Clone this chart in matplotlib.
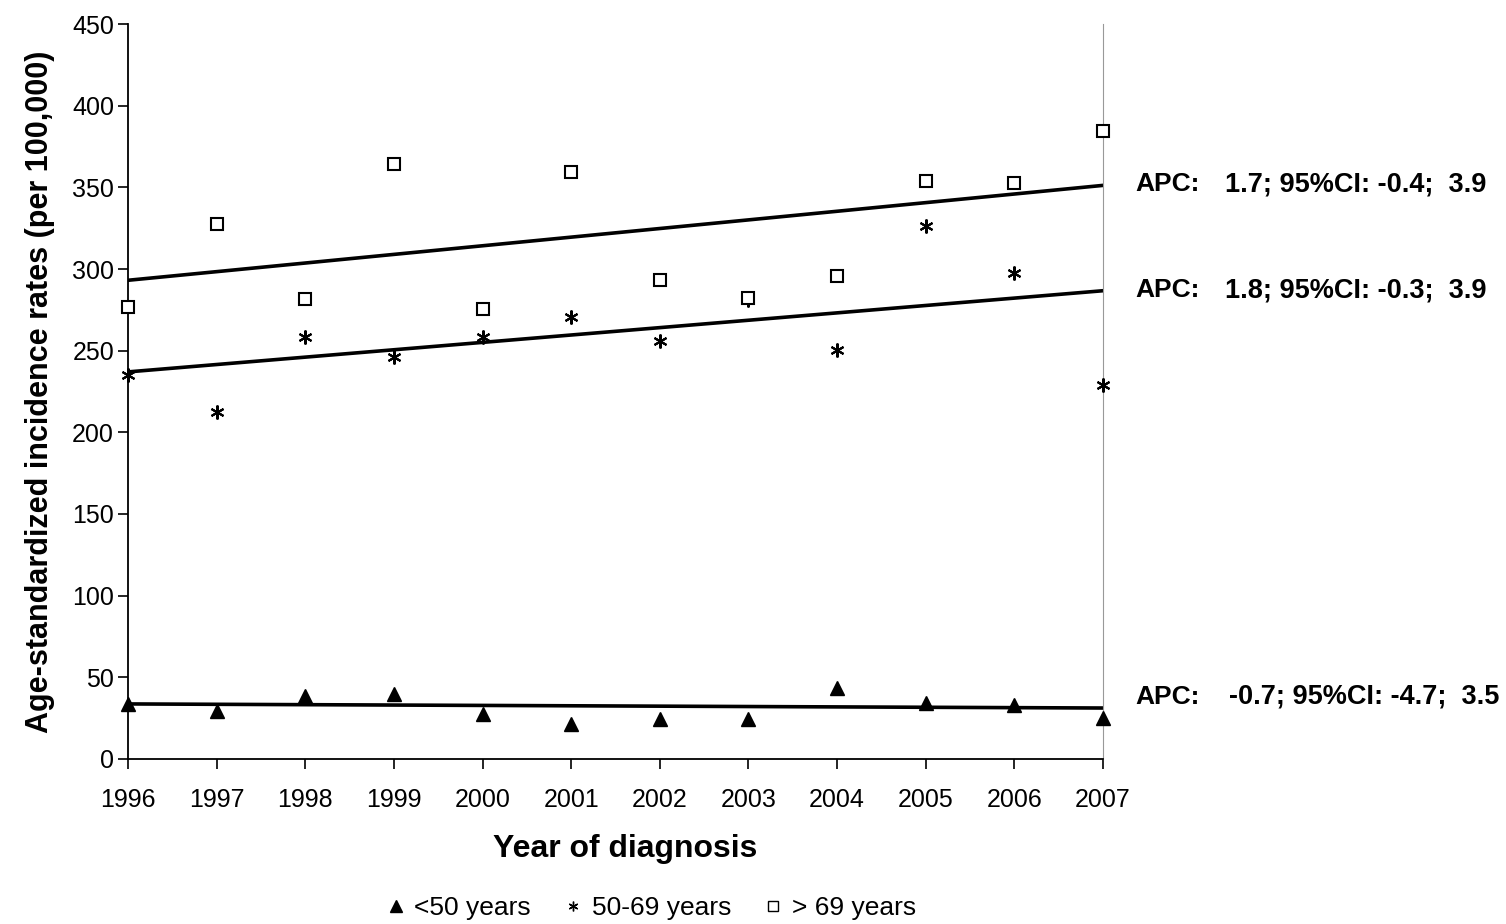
import matplotlib
matplotlib.use("Agg")
import matplotlib.pyplot as plt
from matplotlib.lines import Line2D

# data
years = [1996, 1997, 1998, 1999, 2000, 2001, 2002, 2003, 2004, 2005, 2006, 2007]
under50 = [33.7, 29.6, 38.6, 39.6, 27.3, 21.6, 24.3, 24.3, 43.3, 34.5, 33.1, 25.1]
age50_69 = [235.1, 212.4, 258.2, 245.9, 258.6, 270.8, 255.7, 281.0, 250.6, 326.5, 297.5, 229.0]
over69 = [276.5, 327.3, 281.6, 364.1, 275.3, 359.2, 293.1, 282.0, 295.7, 353.9, 352.9, 384.3]

# trend line end points (1996, 2007)
trend_years = [1996, 2007]
trend_under50 = [33.7, 31.2]
trend_50_69 = [237.0, 286.7]
trend_over69 = [293.1, 351.2]

apc_labels = ["1.7; 95%CI: -0.4;  3.9", "1.8; 95%CI: -0.3;  3.9", "-0.7; 95%CI: -4.7;  3.5"]
apc_y = [352, 287, 38]

plt.rcParams['font.family'] = ['Liberation Sans', 'DejaVu Sans']

fig = plt.figure(figsize=(15.06, 9.24), dpi=100)
ax = fig.add_axes([0.085, 0.1786, 0.6474, 0.7954])

ax.plot(trend_years, trend_over69, color="black", lw=2.6)
ax.plot(trend_years, trend_50_69, color="black", lw=2.6)
ax.plot(trend_years, trend_under50, color="black", lw=2.6)

ax.plot(years, under50, ls="none", marker="^", ms=10, color="black", clip_on=False, zorder=3)
ax.plot(years, age50_69, ls="none", marker=(6, 2, 0), ms=10, mew=1.5, color="black", clip_on=False, zorder=3)
ax.plot(years, over69, ls="none", marker="s", ms=8.5, mfc="white", mec="black", mew=1.5, clip_on=False, zorder=3)

ax.set_xlim(1996, 2007)
ax.set_ylim(0, 450)
ax.set_xticks(years)
ax.set_yticks(range(0, 451, 50))
ax.tick_params(axis="both", direction="out", length=7, width=1.2, labelsize=18)
ax.tick_params(axis="x", pad=14)
ax.tick_params(axis="y", pad=3)
ax.spines["top"].set_visible(False)
ax.spines["right"].set_color("#999999")
ax.spines["left"].set_linewidth(1.3)
ax.spines["bottom"].set_linewidth(1.3)

ax.set_xlabel("Year of diagnosis", fontsize=23, fontweight="bold")
ax.xaxis.set_label_coords(0.51, -0.102)
ax.set_ylabel("Age-standardized incidence rates (per 100,000)", fontsize=22, fontweight="bold", labelpad=12)

for i, (lab, yv) in enumerate(zip(apc_labels, apc_y)):
    ax.text(1.033, yv, "APC:", transform=ax.get_yaxis_transform(), fontsize=19, fontweight="bold",
            va="center", ha="left")
    if i < 2:
        ax.text(1.125, yv, lab, transform=ax.get_yaxis_transform(), fontsize=19.5, fontweight="bold",
                va="center", ha="left")
    else:
        ax.text(1.407, yv, lab, transform=ax.get_yaxis_transform(), fontsize=19.5, fontweight="bold",
                va="center", ha="right")

handles = [
    Line2D([], [], ls="none", marker="^", ms=8, color="black"),
    Line2D([], [], ls="none", marker=(6, 2, 0), ms=7, mew=1, color="black"),
    Line2D([], [], ls="none", marker="s", ms=7, mfc="white", mec="black", mew=1),
]
fig.legend(handles, ["<50 years", "50-69 years", "> 69 years"], loc="center", bbox_to_anchor=(0.432, 0.017),
           ncol=3, frameon=False, fontsize=19, handlelength=0.8, handletextpad=0.3, columnspacing=1.2)

fig.savefig("out.png", dpi=100)
